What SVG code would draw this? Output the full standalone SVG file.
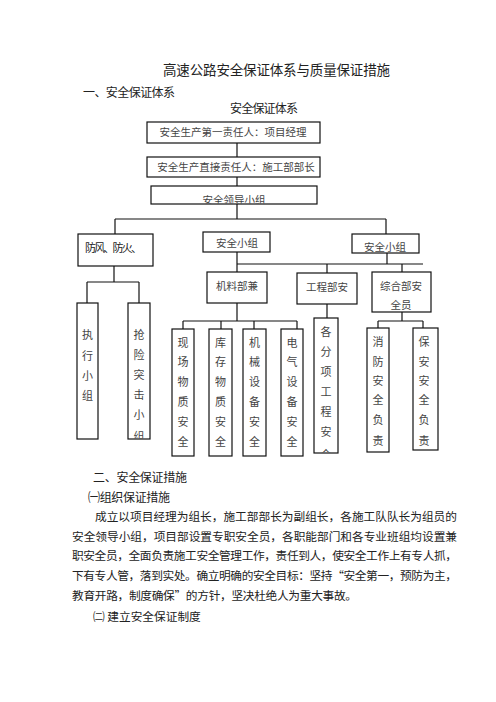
<svg xmlns="http://www.w3.org/2000/svg" width="496" height="702" viewBox="0 0 496 702">
<style>
text{font-family:"Noto Sans CJK SC","Noto Sans",sans-serif;fill:#222}
.box{fill:#fff;stroke:#111;stroke-width:1.2}
.bt{font-size:10.5px;fill:#444;text-anchor:middle}
.v{font-size:11px;fill:#444;text-anchor:middle}
.h{font-size:12px}
.p{font-size:11.7px}
#connectors line{stroke:#111;stroke-width:1.2}
</style>
<defs>
<clipPath id="c3"><rect x="151" y="186" width="166" height="17.4"/></clipPath>
<clipPath id="cq"><rect x="128" y="303" width="22" height="135.4"/></clipPath>
<clipPath id="cg"><rect x="314" y="318" width="24" height="134.4"/></clipPath>
<clipPath id="cz"><rect x="372" y="272" width="59" height="39.4"/></clipPath>
</defs>
<rect width="496" height="702" fill="#fff"/>
<g id="headings">
<text x="163" y="75" font-size="13.5" textLength="227">高速公路安全保证体系与质量保证措施</text>
<text x="83" y="96.5" class="h" textLength="92">一、安全保证体系</text>
<text x="230" y="112.5" class="h" textLength="68">安全保证体系</text>
</g>
<g id="connectors">
<line x1="237" y1="143" x2="237" y2="157"/>
<line x1="237" y1="177" x2="237" y2="186"/>
<line x1="237" y1="204" x2="237" y2="219"/>
<line x1="115" y1="219" x2="386" y2="219"/>
<line x1="115" y1="219" x2="115" y2="234"/>
<line x1="386" y1="219" x2="386" y2="234"/>
<line x1="114" y1="266" x2="114" y2="282"/>
<line x1="87" y1="282" x2="139" y2="282"/>
<line x1="87" y1="282" x2="87" y2="303"/>
<line x1="139" y1="282" x2="139" y2="303"/>
<line x1="237" y1="252" x2="237" y2="264"/>
<line x1="387" y1="253" x2="387" y2="264"/>
<line x1="237" y1="264" x2="423" y2="264"/>
<line x1="237" y1="264" x2="237" y2="272"/>
<line x1="327" y1="264" x2="327" y2="273"/>
<line x1="402" y1="264" x2="402" y2="272"/>
<line x1="237" y1="303" x2="237" y2="321"/>
<line x1="183" y1="321" x2="297" y2="321"/>
<line x1="183" y1="321" x2="183" y2="329"/>
<line x1="221" y1="321" x2="221" y2="329"/>
<line x1="254" y1="321" x2="254" y2="329"/>
<line x1="297" y1="321" x2="297" y2="329"/>
<line x1="327" y1="304" x2="327" y2="318"/>
<line x1="402" y1="311" x2="402" y2="321"/>
<line x1="378" y1="321" x2="423" y2="321"/>
<line x1="378" y1="321" x2="378" y2="328"/>
<line x1="423" y1="321" x2="423" y2="328"/>
</g>
<g id="n1"><rect class="box" x="147" y="122" width="173" height="21"/><text class="bt" x="233" y="136" font-size="10">安全生产第一责任人：项目经理</text></g>
<g id="n2"><rect class="box" x="147" y="157" width="173" height="20"/><text class="bt" x="236" y="171">安全生产直接责任人：施工部部长</text></g>
<g id="n3"><rect class="box" x="151" y="186" width="166" height="18"/><text class="bt" x="234" y="204" font-size="10" clip-path="url(#c3)">安全领导小组</text></g>
<g id="n4"><rect class="box" x="78" y="234" width="75" height="32"/><text x="85" y="252" font-size="11" fill="#444" textLength="57">防风、防火、</text></g>
<g id="n5"><rect class="box" x="203" y="232" width="67" height="20"/><text class="bt" x="237" y="247">安全小组</text></g>
<g id="n6"><rect class="box" x="352" y="234" width="67" height="19"/><text class="bt" x="385" y="251" font-size="10">安全小组</text></g>
<g id="n7"><rect class="box" x="207" y="272" width="60" height="31"/><text class="bt" x="237" y="290" font-size="11">机料部兼</text></g>
<g id="n8"><rect class="box" x="297" y="273" width="60" height="31"/><text class="bt" x="327" y="291" font-size="11">工程部安</text></g>
<g id="n9"><rect class="box" x="372" y="272" width="59" height="40"/><g clip-path="url(#cz)"><text class="bt" x="401" y="290" font-size="11">综合部安</text><text class="bt" x="401" y="309" font-size="10.5">全员</text></g></g>
<g id="n10"><rect class="box" x="77" y="303" width="21" height="136"/><text class="v"><tspan x="87.5" y="339">执</tspan><tspan x="87.5" y="360">行</tspan><tspan x="87.5" y="380">小</tspan><tspan x="87.5" y="400">组</tspan></text></g>
<g id="n11"><rect class="box" x="128" y="303" width="22" height="136"/><text class="v" clip-path="url(#cq)"><tspan x="139" y="339">抢</tspan><tspan x="139" y="359">险</tspan><tspan x="139" y="379">突</tspan><tspan x="139" y="399">击</tspan><tspan x="139" y="419">小</tspan><tspan x="139" y="441">组</tspan></text></g>
<g id="n12"><rect class="box" x="172" y="329" width="22" height="127"/><text class="v"><tspan x="183" y="347">现</tspan><tspan x="183" y="366">场</tspan><tspan x="183" y="386">物</tspan><tspan x="183" y="406">质</tspan><tspan x="183" y="426">安</tspan><tspan x="183" y="446">全</tspan></text></g>
<g id="n13"><rect class="box" x="209" y="329" width="23" height="127"/><text class="v"><tspan x="220.5" y="347">库</tspan><tspan x="220.5" y="366">存</tspan><tspan x="220.5" y="386">物</tspan><tspan x="220.5" y="406">质</tspan><tspan x="220.5" y="426">安</tspan><tspan x="220.5" y="446">全</tspan></text></g>
<g id="n14"><rect class="box" x="243" y="329" width="23" height="127"/><text class="v"><tspan x="254.5" y="347">机</tspan><tspan x="254.5" y="366">械</tspan><tspan x="254.5" y="386">设</tspan><tspan x="254.5" y="406">备</tspan><tspan x="254.5" y="426">安</tspan><tspan x="254.5" y="446">全</tspan></text></g>
<g id="n15"><rect class="box" x="281" y="329" width="22" height="127"/><text class="v"><tspan x="292" y="347">电</tspan><tspan x="292" y="366">气</tspan><tspan x="292" y="386">设</tspan><tspan x="292" y="406">备</tspan><tspan x="292" y="426">安</tspan><tspan x="292" y="446">全</tspan></text></g>
<g id="n16"><rect class="box" x="314" y="318" width="24" height="135"/><text class="v" clip-path="url(#cg)"><tspan x="326" y="336">各</tspan><tspan x="326" y="356">分</tspan><tspan x="326" y="376">项</tspan><tspan x="326" y="396">工</tspan><tspan x="326" y="416">程</tspan><tspan x="326" y="436">安</tspan><tspan x="326" y="459">全</tspan></text></g>
<g id="n17"><rect class="box" x="367" y="328" width="22" height="124"/><text class="v"><tspan x="378" y="346">消</tspan><tspan x="378" y="366">防</tspan><tspan x="378" y="385">安</tspan><tspan x="378" y="404">全</tspan><tspan x="378" y="424">负</tspan><tspan x="378" y="445">责</tspan></text></g>
<g id="n18"><rect class="box" x="413" y="328" width="25" height="122"/><text class="v"><tspan x="424" y="346">保</tspan><tspan x="424" y="366">安</tspan><tspan x="424" y="385">安</tspan><tspan x="424" y="404">全</tspan><tspan x="424" y="424">负</tspan><tspan x="424" y="445">责</tspan></text></g>
<g id="body">
<text x="93" y="481.5" class="h" textLength="94">二、安全保证措施</text>
<text x="88" y="502" class="h" textLength="82">㈠组织保证措施</text>
<text x="95" y="521" class="p" textLength="362">成立以项目经理为组长，施工部部长为副组长，各施工队队长为组员的</text>
<text x="72" y="541" class="p" textLength="385">安全领导小组，项目部设置专职安全员，各职能部门和各专业班组均设置兼</text>
<text x="72" y="560" class="p" textLength="385">职安全员，全面负责施工安全管理工作，责任到人，使安全工作上有专人抓，</text>
<text x="72" y="579.5" class="p" textLength="385">下有专人管，落到实处。确立明确的安全目标：坚持“安全第一，预防为主，</text>
<text x="72" y="599.5" class="p" textLength="285">教育开路，制度确保”的方针，坚决杜绝人为重大事故。</text>
<text x="93" y="621" class="p">㈡ 建立安全保证制度</text>
</g>
</svg>
